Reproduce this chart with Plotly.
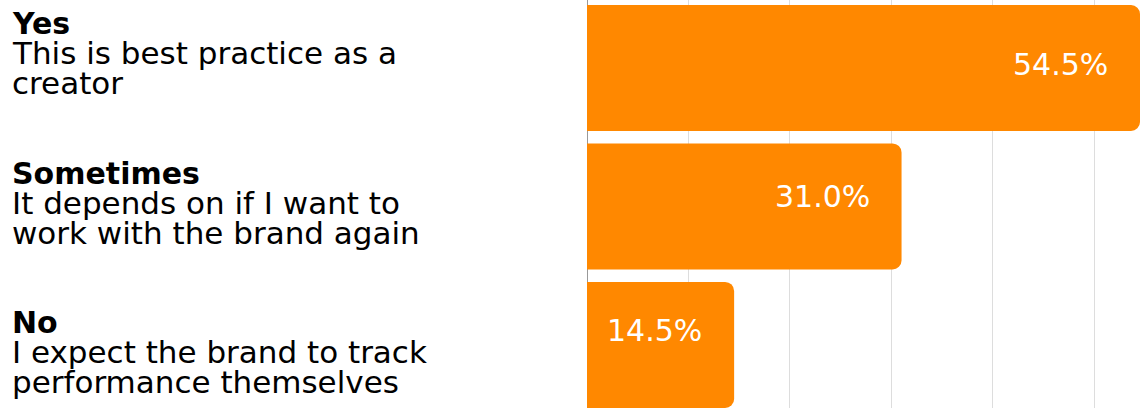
import plotly.graph_objects as go

categories = ["Yes", "Sometimes", "No"]
descriptions = [
    ["This is best practice as a", "creator"],
    ["It depends on if I want to", "work with the brand again"],
    ["I expect the brand to track", "performance themselves"],
]
values = [54.5, 31.0, 14.5]
value_labels = ["54.5%", "31.0%", "14.5%"]

ORANGE = "#FF8800"
FONT = "DejaVu Sans"

fig = go.Figure()
fig.add_trace(go.Bar(
    x=values,
    y=list(range(len(categories))),
    orientation="h",
    marker=dict(color=ORANGE, line=dict(width=0)),
    width=0.91,
    hoverinfo="skip",
))

W, H = 1140, 411
L, R, T, B = 587, 0, 0, 3
PH = H - T - B
PW = W - L - R

annotations = []
# line centres (px from top) of the first text line of each label block
title_centers = [23, 173, 322]
value_yshift = [4, 9.5, 14]
for i, cat in enumerate(categories):
    lines = [("<b>" + cat + "</b>", True)] + [(d, False) for d in descriptions[i]]
    for j, (txt, bold) in enumerate(lines):
        py = title_centers[i] + 30 * j
        annotations.append(dict(
            text=txt, xref="paper", yref="paper",
            x=(12 - L) / PW, y=1 - (py - T) / PH, xshift=-2,
            xanchor="left", yanchor="middle", showarrow=False,
            font=dict(family=FONT, size=31 if not bold else 30, color="#000000"),
        ))
    annotations.append(dict(
        text=value_labels[i], x=values[i], y=i, xref="x", yref="y",
        xanchor="right", yanchor="middle", xshift=-30, yshift=value_yshift[i],
        showarrow=False,
        font=dict(family=FONT, size=30, color="#FFFFFF"),
    ))

fig.update_layout(
    width=W, height=H,
    margin=dict(l=L, r=R, t=T, b=B, pad=0),
    paper_bgcolor="white", plot_bgcolor="white",
    barcornerradius=9,
    showlegend=False,
    xaxis=dict(range=[0, 54.5], dtick=10, showticklabels=False,
               showgrid=True, gridcolor="#DDDDDD", gridwidth=1,
               zeroline=True, zerolinecolor="#999999", zerolinewidth=1,
               showline=False, fixedrange=True),
    yaxis=dict(range=[2.455, -0.491], showticklabels=False, showgrid=False,
               zeroline=False, showline=False, fixedrange=True),
    annotations=annotations,
)

fig.write_html("out.html")
